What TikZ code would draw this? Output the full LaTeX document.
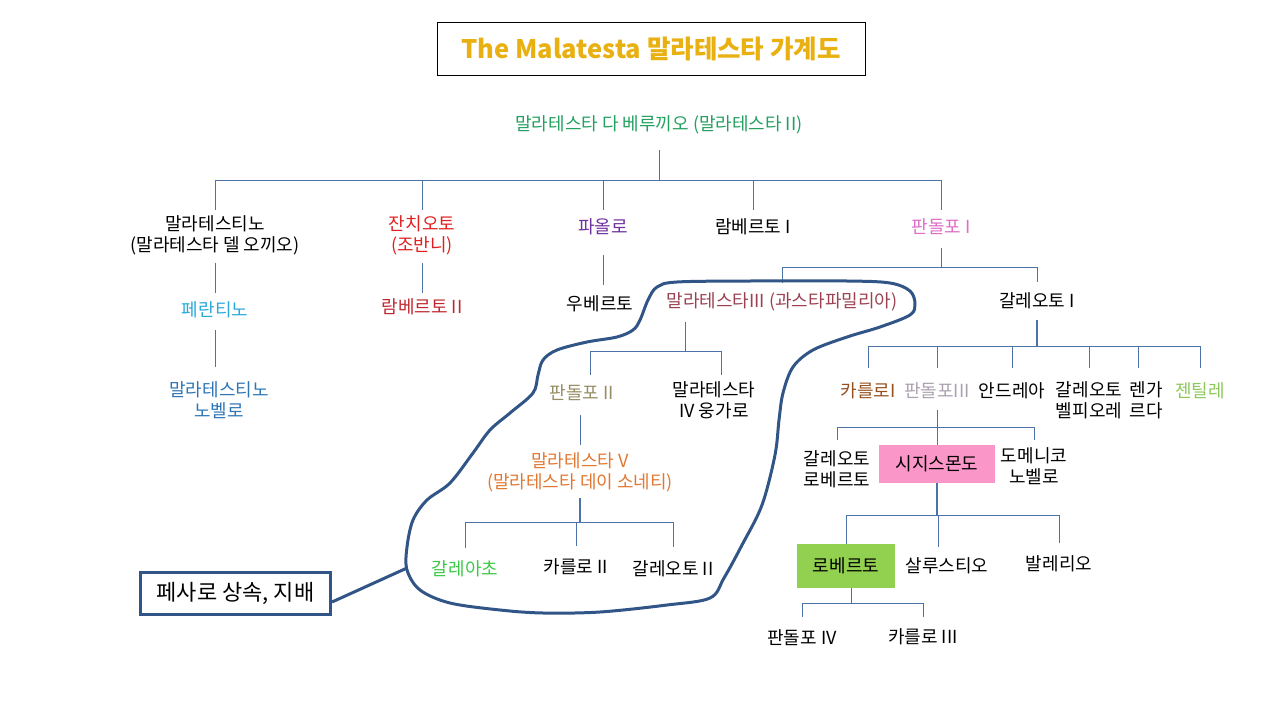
\documentclass[tikz,border=0pt]{standalone}
\usepackage{fontspec}
\setmainfont{Noto Sans CJK KR}
\usetikzlibrary{calc}
\definecolor{gold}{RGB}{232,176,16}
\definecolor{rootg}{RGB}{35,160,95}
\definecolor{redA}{RGB}{224,32,32}
\definecolor{redB}{RGB}{192,40,48}
\definecolor{purp}{RGB}{112,48,160}
\definecolor{pinkA}{RGB}{222,110,200}
\definecolor{cyanA}{RGB}{40,170,220}
\definecolor{blueA}{RGB}{46,117,182}
\definecolor{rose}{RGB}{155,65,80}
\definecolor{khaki}{RGB}{150,140,100}
\definecolor{orangeA}{RGB}{225,120,50}
\definecolor{greenA}{RGB}{60,200,70}
\definecolor{brownA}{RGB}{150,80,30}
\definecolor{grayA}{RGB}{170,160,175}
\definecolor{greenB}{RGB}{140,200,90}
\definecolor{pinkbox}{RGB}{250,150,200}
\definecolor{greenbox}{RGB}{146,208,80}
\definecolor{curvec}{RGB}{50,85,135}
\definecolor{connc}{RGB}{75,115,165}
\newcommand\tie[5]{\draw[conn] (#1 |- 0,#2) -- (#1 |- 0,#3) -| (#4 |- 0,#5);}
\begin{document}
\begin{tikzpicture}[x=1pt,y=1pt,
  every node/.style={inner sep=0pt, align=center, font=\fontsize{18}{21}\selectfont},
  conn/.style={draw=connc, line width=1pt},
  trunk/.style={draw=connc, line width=1.8pt},
  curve/.style={draw=curvec, line width=3pt, line join=round},
  titlebox/.style={draw=black, line width=1pt, minimum width=428, minimum height=53, text=gold, font=\fontsize{25.5}{28}\selectfont\bfseries},
  calloutbox/.style={draw=curvec, line width=3pt, minimum width=190, minimum height=42, font=\fontsize{22}{24}\selectfont},
  pinkb/.style={fill=pinkbox, minimum width=116, minimum height=38},
  greenb/.style={fill=greenbox, minimum width=98, minimum height=44}]
\useasboundingbox (0,0) rectangle (1280,-720);

% title
\node[titlebox] (title) at (651,-48.5) {The Malatesta 말라테스타 가계도};

% people
\node[text=rootg] (root) at (659,-125) {말라테스타 다 베루끼오 (말라테스타 II)};
\node (mt) at (215,-235.5) {말라테스티노\\(말라테스타 델 오끼오)};
\node[text=redA] (gz) at (422,-235.5) {잔치오토\\(조반니)};
\node[text=purp] (pa) at (603,-227) {파올로};
\node (l1) at (753,-227) {람베르토 I};
\node[text=pinkA] (p1) at (941,-227) {판돌포 I};
\node[text=cyanA] (fe) at (215,-310) {페란티노};
\node[text=redB] (l2) at (422,-307) {람베르토 II};
\node (ub) at (600,-304) {우베르토};
\node[text=blueA] (mn) at (219,-400) {말라테스티노\\노벨로};
\node[text=rose] (m3) at (782,-302) {말라테스타III (과스타파밀리아)};
\node (g1) at (1037,-301) {갈레오토 I};
\node[text=khaki] (p2) at (582,-393) {판돌포 II};
\node (m4) at (714,-400) {말라테스타\\IV 웅가로};
\node[text=orangeA] (m5) at (580,-472) {말라테스타 V\\(말라테스타 데이 소네티)};
\node[text=greenA] (ga) at (465,-569) {갈레아초};
\node (c2) at (576,-567) {카를로 II};
\node (g2) at (673,-569) {갈레오토 II};
\node[text=brownA] (c1) at (868,-391) {카를로I};
\node[text=grayA] (p3) at (937,-391) {판돌포III};
\node (an) at (1012,-391) {안드레아};
\node (gb) at (1089,-400.5) {갈레오토\\벨피오레};
\node (re) at (1146,-400.5) {렌가\\르다};
\node[text=greenB] (ge) at (1200,-391) {젠틸레};
\node (gr) at (837,-469) {갈레오토\\로베르토};
\node[pinkb] (si) at (937,-464) {시지스몬도};
\node (dn) at (1034,-466.5) {도메니코\\노벨로};
\node[greenb] (ro) at (846,-566) {로베르토};
\node (sa) at (947,-566) {살루스티오};
\node (va) at (1059,-564) {발레리오};
\node (p4) at (802,-638) {판돌포 IV};
\node (c3) at (923,-637) {카를로 III};

% drop coordinates where the line is not under the text centre
\coordinate (m3d) at (685,-322);
\coordinate (p2d) at (590,-375);
\coordinate (m4d) at (721,-375);
\coordinate (red) at (1138,-368);
\coordinate (sad) at (938,-547);
\coordinate (rod) at (851,-588);

% connectors
\tie{root}{-150}{-180}{mt}{-210}
\tie{root}{-150}{-180}{gz}{-210}
\tie{root}{-150}{-180}{pa}{-210}
\tie{root}{-150}{-180}{l1}{-210}
\tie{root}{-150}{-180}{p1}{-210}
\draw[conn] (mt |- 0,-263) -- (fe |- 0,-293);
\draw[conn] (gz |- 0,-263) -- (l2 |- 0,-293);
\draw[conn] (pa |- 0,-255) -- (pa |- 0,-285);
\draw[conn] (fe |- 0,-330) -- (fe |- 0,-367);
\tie{p1}{-248}{-267}{m3}{-283}
\tie{p1}{-248}{-267}{g1}{-282}
\tie{m3d}{-322}{-351}{p2d}{-375}
\tie{m3d}{-322}{-351}{m4d}{-375}
\draw[conn] (m5 |- 0,-415) -- (m5 |- 0,-445);
\draw[trunk] (m5 |- 0,-498) -- (m5 |- 0,-522);
\tie{m5}{-498}{-522}{ga}{-548}
\tie{m5}{-498}{-522}{c2}{-546}
\tie{m5}{-498}{-522}{g2}{-547}
\draw[trunk] (g1 |- 0,-320) -- (g1 |- 0,-346);
\tie{g1}{-320}{-346}{c1}{-368}
\tie{g1}{-320}{-346}{p3}{-368}
\tie{g1}{-320}{-346}{an}{-368}
\tie{g1}{-320}{-346}{gb}{-368}
\tie{g1}{-320}{-346}{red}{-368}
\tie{g1}{-320}{-346}{ge}{-368}
\tie{p3}{-410}{-427}{gr}{-440}
\tie{p3}{-410}{-427}{si}{-445}
\tie{p3}{-410}{-427}{dn}{-440}
\draw[trunk] (si.south) -- (si |- 0,-515);
\tie{si}{-483}{-515}{ro}{-544}
\tie{si}{-483}{-515}{sad}{-547}
\tie{si}{-483}{-515}{va}{-543}
\tie{rod}{-588}{-603}{p4}{-617}
\tie{rod}{-588}{-603}{c3}{-617}

% hand-drawn enclosure
\draw[curve] plot[smooth cycle, tension=0.55] coordinates {
 (657,-287) (677,-282) (750,-281) (847,-281) (890,-283) (910,-291) (915,-304)
 (910,-315) (880,-327) (847,-337) (813,-350) (793,-367) (783,-393) (779,-420)
 (775,-455) (762,-505) (742,-545) (724,-578) (710,-598) (667,-605) (600,-612)
 (543,-613) (500,-610) (450,-603) (420,-590) (407,-570) (407,-547) (413,-520)
 (427,-500) (450,-483) (473,-453) (490,-430) (510,-413) (533,-393) (538,-375)
 (543,-360) (557,-350) (587,-342) (617,-337) (633,-330) (640,-320) (648,-300)};

% callout
\node[calloutbox] (call) at (235.5,-593.5) {페사로 상속, 지배};
\coordinate (callend) at (407,-568);
\draw[curve] (call.east |- 0,-602) -- (callend);
\end{tikzpicture}
\end{document}
